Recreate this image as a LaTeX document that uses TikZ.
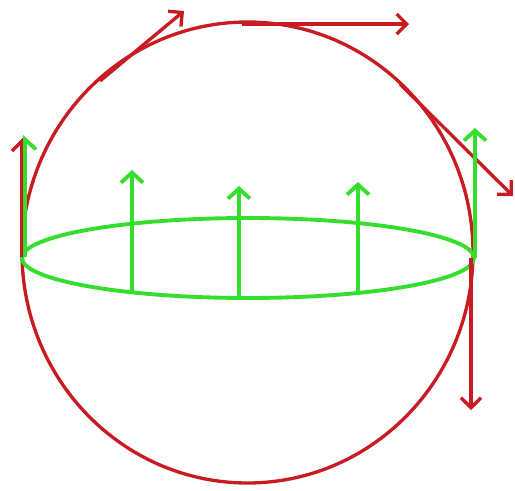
\documentclass[tikz,border=0pt]{standalone}
\usetikzlibrary{arrows.meta}
\definecolor{sketchred}{RGB}{200,28,34}
\definecolor{sketchgreen}{RGB}{52,222,44}
\tikzset{
 redline/.style={sketchred, line width=1.9pt},
 greenline/.style={sketchgreen, line width=2.2pt},
 redvec/.style={redline, -{Straight Barb[length=2mm,width=4mm]}},
 greenvec/.style={greenline, -{Straight Barb[length=2mm,width=4.4mm]}},
}
\begin{document}
\begin{tikzpicture}[x=0.02cm,y=-0.02cm]
 \useasboundingbox (0,0) rectangle (515,491);

 \draw[redline] (247.5,252.5) ellipse [x radius=225.5, y radius=230.5];
 \draw[greenline] (248,258) ellipse [x radius=226, y radius=40];

 \coordinate (westbase) at (22,257);
 \coordinate (westred) at (22,137);
 \coordinate (westgreenbase) at (25,257);
 \coordinate (westgreen) at (25,135);
 \coordinate (nwbase) at (100,81);
 \coordinate (nwtip) at (184,11);
 \coordinate (topbase) at (242,24);
 \coordinate (toptip) at (409,24);
 \coordinate (nebase) at (400,84);
 \coordinate (netip) at (513,196);
 \coordinate (eastbase) at (475,258);
 \coordinate (eastgreen) at (475,128);
 \coordinate (eastredbase) at (471,258);
 \coordinate (eastred) at (471,410);

 \coordinate (ringa) at (132,293);
 \coordinate (tipa) at (132,170);
 \coordinate (ringb) at (239,298);
 \coordinate (tipb) at (239,186);
 \coordinate (ringc) at (358,293);
 \coordinate (tipc) at (358,182);

 \draw[redline, -{Straight Barb[left,length=2mm,width=4mm]}] (westbase) -- (westred);
 \draw[greenline, -{Straight Barb[right,length=2mm,width=4.4mm]}] (westgreenbase) -- (westgreen);
 \draw[redvec] (nwbase) -- (nwtip);
 \draw[redvec] (topbase) -- (toptip);
 \draw[redvec] (nebase) -- (netip);
 \draw[greenvec] (eastbase) -- (eastgreen);
 \draw[redvec] (eastredbase) -- (eastred);

 \draw[greenvec] (ringa) -- (tipa);
 \draw[greenvec] (ringb) -- (tipb);
 \draw[greenvec] (ringc) -- (tipc);

\end{tikzpicture}
\end{document}
